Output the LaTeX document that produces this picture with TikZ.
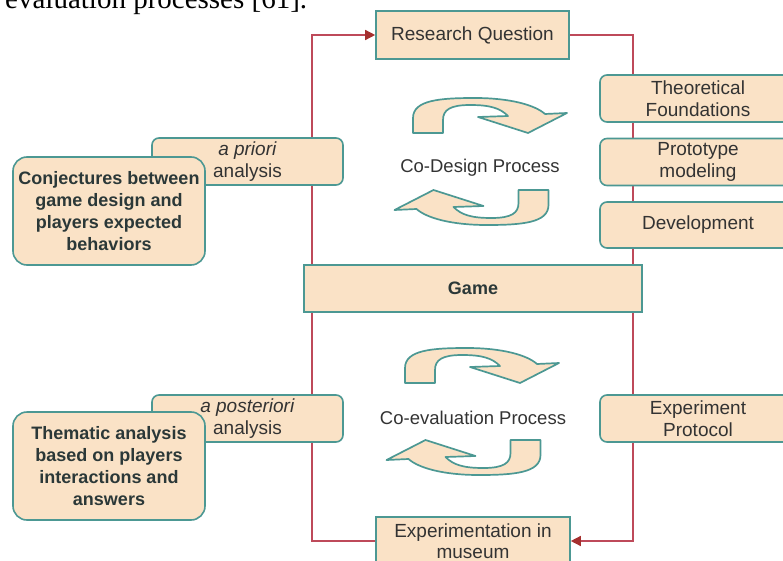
\documentclass[tikz,border=0pt]{standalone}
\usepackage{fontspec}
\setmainfont{Liberation Sans}
\newfontfamily\serifface{Liberation Serif}
\usetikzlibrary{arrows.meta,backgrounds}
\definecolor{peach}{HTML}{FAE2C6}
\definecolor{tealb}{HTML}{4C9893}
\definecolor{redline}{HTML}{BE4A5A}
\definecolor{redtip}{HTML}{A52F2E}
\definecolor{txt}{HTML}{333333}
\definecolor{txtb}{HTML}{2B3838}
\begin{document}
\begin{tikzpicture}[x=1pt,y=-1pt,
  box/.style={draw=tealb, fill=peach, line width=1.6pt, text=txt, align=center, inner sep=0pt,
    font=\fontsize{19}{21.5}\selectfont},
  sqbox/.style={box},
  rbox/.style={box, rounded corners=7pt},
  bigbox/.style={box, rounded corners=14pt, text=txtb, font=\fontsize{18}{22}\selectfont\bfseries},
  flow/.style={draw=redline, line width=1.4pt},
  flowarr/.style={flow, -{Triangle[length=10pt,width=10pt,color=redtip]}},
  proclabel/.style={text=txt, inner sep=0pt, font=\fontsize{18.5}{22}\selectfont},
  cyc/.pic={
    \filldraw[draw=tealb, fill=peach, line width=1.7pt, line join=round]
      (-77,17) -- (-77,2) .. controls (-77,-16) and (-50,-18) .. (-15,-18)
      .. controls (20,-18) and (45,-11) .. (55,-2)
      -- (77,-3) -- (38,17) -- (-12,1) -- (18,0)
      .. controls (10,-8) and (0,-11) .. (-20,-11)
      .. controls (-40,-11) and (-47,-6) .. (-47,4)
      -- (-47,17) -- cycle;
  }
]
\useasboundingbox (0,0) rectangle (783,561);
\clip (0,0) rectangle (783,561);

% cut-off line of the surrounding text
\node[anchor=base west, inner sep=0pt, text=black, font=\serifface\fontsize{29}{30}\selectfont]
  (toptext) at (5,8.5) {evaluation processes [61].};

% square boxes
\node[sqbox, minimum width=193pt, minimum height=48pt] (rq) at (472.5,35) {Research Question};
\node[sqbox, minimum width=338pt, minimum height=47pt, font=\fontsize{18}{21}\selectfont\bfseries, text=txtb] (game) at (473,288.5) {Game};
\node[sqbox, minimum width=194pt, minimum height=48pt] (exp) at (473,541) {Experimentation in\\museum};

% right column
\node[rbox, minimum width=196pt, minimum height=47pt] (theo) at (698,98.5) {Theoretical\\Foundations};
\node[rbox, minimum width=196pt, minimum height=47pt] (proto) at (698,162) {Prototype\\modeling};
\node[rbox, minimum width=196pt, minimum height=46pt] (dev) at (698,225) {Development};
\node[rbox, minimum width=196pt, minimum height=47pt] (expp) at (698,418.5) {Experiment\\Protocol};

% left column
\node[rbox, minimum width=191pt, minimum height=47pt] (apri) at (247.5,161.5) {\textit{a priori}\\analysis};
\node[bigbox, minimum width=192pt, minimum height=108pt] (conj) at (109,211)
  {Conjectures between\\game design and\\players expected\\behaviors};
\node[rbox, minimum width=191pt, minimum height=47pt] (apost) at (247.5,418.5) {\textit{a posteriori}\\analysis};
\node[bigbox, minimum width=192pt, minimum height=108pt] (them) at (109,466)
  {Thematic analysis\\based on players\\interactions and\\answers};

% process labels and cycle arrows
\node[proclabel] (cd) at (480,168) {Co-Design Process};
\pic at (490,116) {cyc};
\pic[rotate=180] at (471.5,207) {cyc};
\node[proclabel] (ce) at (473,418) {Co-evaluation Process};
\pic at (482,366) {cyc};
\pic[rotate=180] at (463.5,457) {cyc};

% loop connectors behind the boxes
\coordinate (L) at (312,0);
\coordinate (R) at (633,0);
\begin{pgfonlayer}{background}
  \draw[flowarr] (exp.west) -- (exp.west -| L) -- (rq.west -| L) -- (rq.west);
  \draw[flowarr] (rq.east) -- (rq.east -| R) -- (exp.east -| R) -- (exp.east);
\end{pgfonlayer}
\end{tikzpicture}
\end{document}
